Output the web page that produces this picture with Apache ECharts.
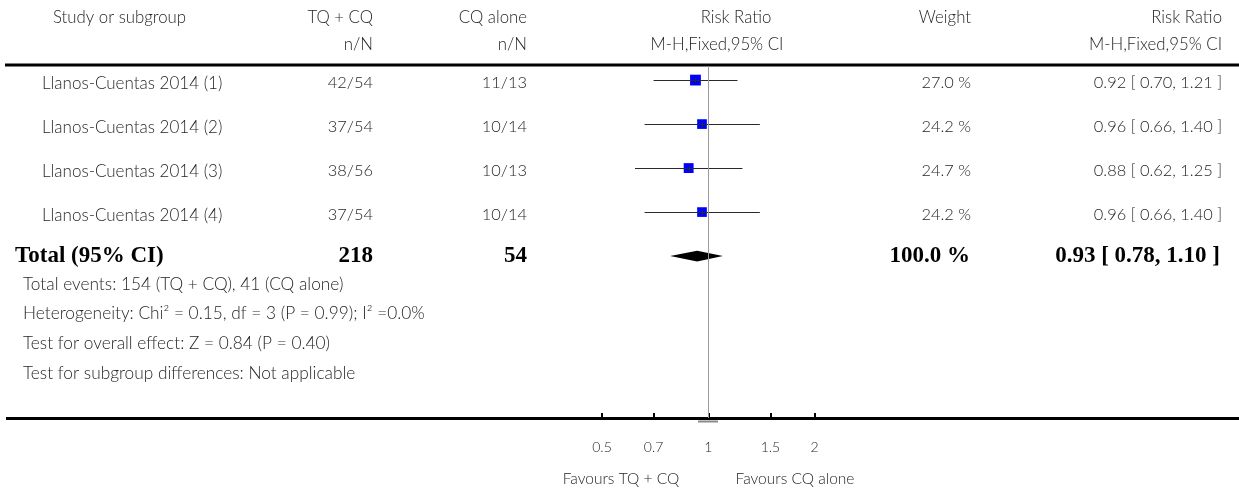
<!DOCTYPE html>
<html>
<head>
<meta charset="utf-8">
<script src="https://cdn.jsdelivr.net/npm/echarts@6/dist/echarts.min.js"></script>
<style>
  html, body { margin: 0; padding: 0; background: #fff; }
  #chart { width: 1239px; height: 491px; }
</style>
</head>
<body>
<div id="chart"></div>
<script>
// Forest plot: TQ + CQ versus CQ alone, risk ratio (M-H, fixed, 95% CI)
const studies = ['Llanos-Cuentas 2014 (1)', 'Llanos-Cuentas 2014 (2)', 'Llanos-Cuentas 2014 (3)', 'Llanos-Cuentas 2014 (4)'];
const tqcqEvents = ['42/54', '37/54', '38/56', '37/54'];
const cqEvents = ['11/13', '10/14', '10/13', '10/14'];
const riskRatio = [0.92, 0.96, 0.88, 0.96];
const ciLow = [0.70, 0.66, 0.62, 0.66];
const ciHigh = [1.21, 1.40, 1.25, 1.40];
const weights = [27.0, 24.2, 24.7, 24.2];

const totalLabel = 'Total (95% CI)';
const totalN = [218, 54];
const totalWeight = [100.0];
const totalRR = [0.93];
const totalCI = [0.78, 1.10];

const tickValues = [0.5, 0.7, 1, 1.5, 2];
const favourLabels = ['Favours TQ + CQ', 'Favours CQ alone'];
const footnotes = [
  'Total events: 154 (TQ + CQ), 41 (CQ alone)',
  'Heterogeneity: Chi\u00b2 = 0.15, df = 3 (P = 0.99); I\u00b2 =0.0%',
  'Test for overall effect: Z = 0.84 (P = 0.40)',
  'Test for subgroup differences: Not applicable'
];

const SANS = 'Lato, "Open Sans", sans-serif';
const SERIF = '"Liberation Serif", "DejaVu Serif", serif';
const INK = '#262626';
const HEAD_SIZE = 16.8;
const WORD_SIZE = 17;
const NOTE_SIZE = 17.3;
const NUM_SIZE = 16.4;

// column anchors (x, px)
const COL_STUDY = 42;
const COL_TQCQ = 373;
const COL_CQ = 527;
const COL_WEIGHT = 971;
const COL_RR = 1222;

const fmt2 = v => v.toFixed(2);
const ciText = (e, lo, hi) => fmt2(e) + ' [ ' + fmt2(lo) + ', ' + fmt2(hi) + ' ]';

const totalRow = studies.length;
const ciData = studies.map((s, i) => [ciLow[i], ciHigh[i], riskRatio[i], i]);
const squareData = studies.map((s, i) => [riskRatio[i], i, weights[i]]);
const diamondData = [[totalCI[0], totalCI[1], totalRR[0], totalRow]];

const chart = echarts.init(document.getElementById('chart'), null, { renderer: 'canvas' });

chart.setOption({
  animation: false,
  backgroundColor: '#fff',
  grid: { left: 602, right: 424.5, top: 66, bottom: 73 },
  xAxis: {
    type: 'log',
    logBase: 10,
    min: 0.5,
    max: 2,
    position: 'bottom',
    axisLine: { show: false, onZero: false },
    splitLine: { show: false },
    minorTick: { show: false },
    axisTick: {
      show: true,
      inside: true,
      length: 5,
      customValues: tickValues,
      lineStyle: { color: '#000', width: 2 }
    },
    axisLabel: {
      show: true,
      customValues: tickValues,
      margin: 22,
      color: INK,
      fontFamily: SANS,
      fontWeight: 300,
      fontSize: 14,
      formatter: v => String(v)
    }
  },
  yAxis: {
    type: 'value',
    inverse: true,
    min: -0.32,
    max: 7.68,
    show: false,
    splitLine: { show: false }
  },
  series: [
    {
      name: 'weight',
      type: 'scatter',
      symbol: 'rect',
      symbolSize: v => v[2] * 0.4,
      itemStyle: { color: '#0000ff', opacity: 1 },
      data: squareData,
      z: 2,
      silent: true,
      markLine: {
        silent: true,
        symbol: ['none', 'none'],
        label: { show: false },
        lineStyle: { color: '#9a9a9a', type: 'solid', width: 1 },
        data: [{ xAxis: 1 }]
      }
    },
    {
      name: 'ci',
      type: 'custom',
      z: 3,
      silent: true,
      data: ciData,
      encode: { x: [0, 1, 2], y: 3 },
      renderItem: (params, api) => {
        const row = api.value(3);
        const a = api.coord([api.value(0), row]);
        const b = api.coord([api.value(1), row]);
        const m = api.coord([api.value(2), row]);
        const y = Math.round(a[1]) + 0.5;
        const mx = Math.round(m[0]) + 0.5;
        return {
          type: 'group',
          children: [
            { type: 'line', shape: { x1: a[0], y1: y, x2: b[0], y2: y }, style: { stroke: '#2a2a2a', lineWidth: 1.2 } },
            { type: 'line', shape: { x1: mx, y1: y - 2.5, x2: mx, y2: y + 2.5 }, style: { stroke: '#2a2a2a', lineWidth: 1 } }
          ]
        };
      }
    },
    {
      name: 'total',
      type: 'custom',
      z: 3,
      silent: true,
      data: diamondData,
      encode: { x: [0, 1, 2], y: 3 },
      renderItem: (params, api) => {
        const row = api.value(3);
        const a = api.coord([api.value(0), row]);
        const b = api.coord([api.value(1), row]);
        const m = api.coord([api.value(2), row]);
        const h = 5.3;
        return {
          type: 'polygon',
          shape: { points: [[a[0], a[1]], [m[0], m[1] - h], [b[0], b[1]], [m[0], m[1] + h]] },
          style: { fill: '#000' }
        };
      }
    }
  ]
});

// Table text and rules laid out around the plot area
function txt(text, x, y, align, opts) {
  opts = opts || {};
  return {
    type: 'text',
    x: x,
    y: y,
    silent: true,
    style: {
      text: text,
      align: align,
      verticalAlign: 'middle',
      fill: opts.color || INK,
      fontFamily: opts.family || SANS,
      fontSize: opts.size || WORD_SIZE,
      fontWeight: opts.weight || 300
    }
  };
}

const rowY = i => chart.convertToPixel({ yAxisIndex: 0 }, i);
const els = [];
const head = { size: HEAD_SIZE };
const num = { size: NUM_SIZE };

// header
els.push(txt('Study or subgroup', 53, 18, 'left', head));
els.push(txt('TQ + CQ', COL_TQCQ, 18, 'right', head));
els.push(txt('CQ alone', COL_CQ, 18, 'right', head));
els.push(txt('Risk Ratio', 736, 18, 'center', head));
els.push(txt('Weight', COL_WEIGHT, 18, 'right', head));
els.push(txt('Risk Ratio', COL_RR, 18, 'right', head));
els.push(txt('n/N', COL_TQCQ, 45, 'right', head));
els.push(txt('n/N', COL_CQ, 45, 'right', head));
els.push(txt('M-H,Fixed,95% CI', 717, 45, 'center', head));
els.push(txt('M-H,Fixed,95% CI', COL_RR, 45, 'right', head));

// study rows
studies.forEach((s, i) => {
  const y = rowY(i) + 3;
  els.push(txt(s, COL_STUDY, y, 'left'));
  els.push(txt(tqcqEvents[i], COL_TQCQ, y, 'right', num));
  els.push(txt(cqEvents[i], COL_CQ, y, 'right', num));
  els.push(txt(weights[i].toFixed(1) + ' %', COL_WEIGHT, y, 'right', num));
  els.push(txt(ciText(riskRatio[i], ciLow[i], ciHigh[i]), COL_RR, y, 'right', num));
});

// total row
const bold = { family: SERIF, size: 23, weight: 'bold', color: '#000' };
const ty = rowY(totalRow);
els.push(txt(totalLabel, 15, ty, 'left', bold));
els.push(txt(String(totalN[0]), COL_TQCQ, ty, 'right', bold));
els.push(txt(String(totalN[1]), COL_CQ, ty, 'right', bold));
els.push(txt(totalWeight[0].toFixed(1) + ' %', COL_WEIGHT - 1, ty, 'right', bold));
els.push(txt(ciText(totalRR[0], totalCI[0], totalCI[1]), COL_RR - 2, ty, 'right', bold));

// footnotes
footnotes.forEach((f, i) => els.push(txt(f, 23, 284 + i * 29.7, 'left', { size: NOTE_SIZE })));

// favour captions under the scale
els.push(txt(favourLabels[0], 621, 479, 'center', { size: 15.5 }));
els.push(txt(favourLabels[1], 795, 479, 'center', { size: 15.5 }));

// heavy rules under the header and along the scale
els.push({ type: 'line', silent: true, shape: { x1: 5, y1: 65, x2: 1239, y2: 65 }, style: { stroke: '#000', lineWidth: 3 } });
els.push({ type: 'line', silent: true, shape: { x1: 6, y1: 418.5, x2: 1239, y2: 418.5 }, style: { stroke: '#000', lineWidth: 3 } });
// faint foot of the no-effect line just under the scale
els.push({ type: 'rect', silent: true, shape: { x: 698, y: 420.5, width: 20, height: 2 }, style: { fill: '#8a8a8a' } });

chart.setOption({ graphic: { elements: els } });
</script>
</body>
</html>
